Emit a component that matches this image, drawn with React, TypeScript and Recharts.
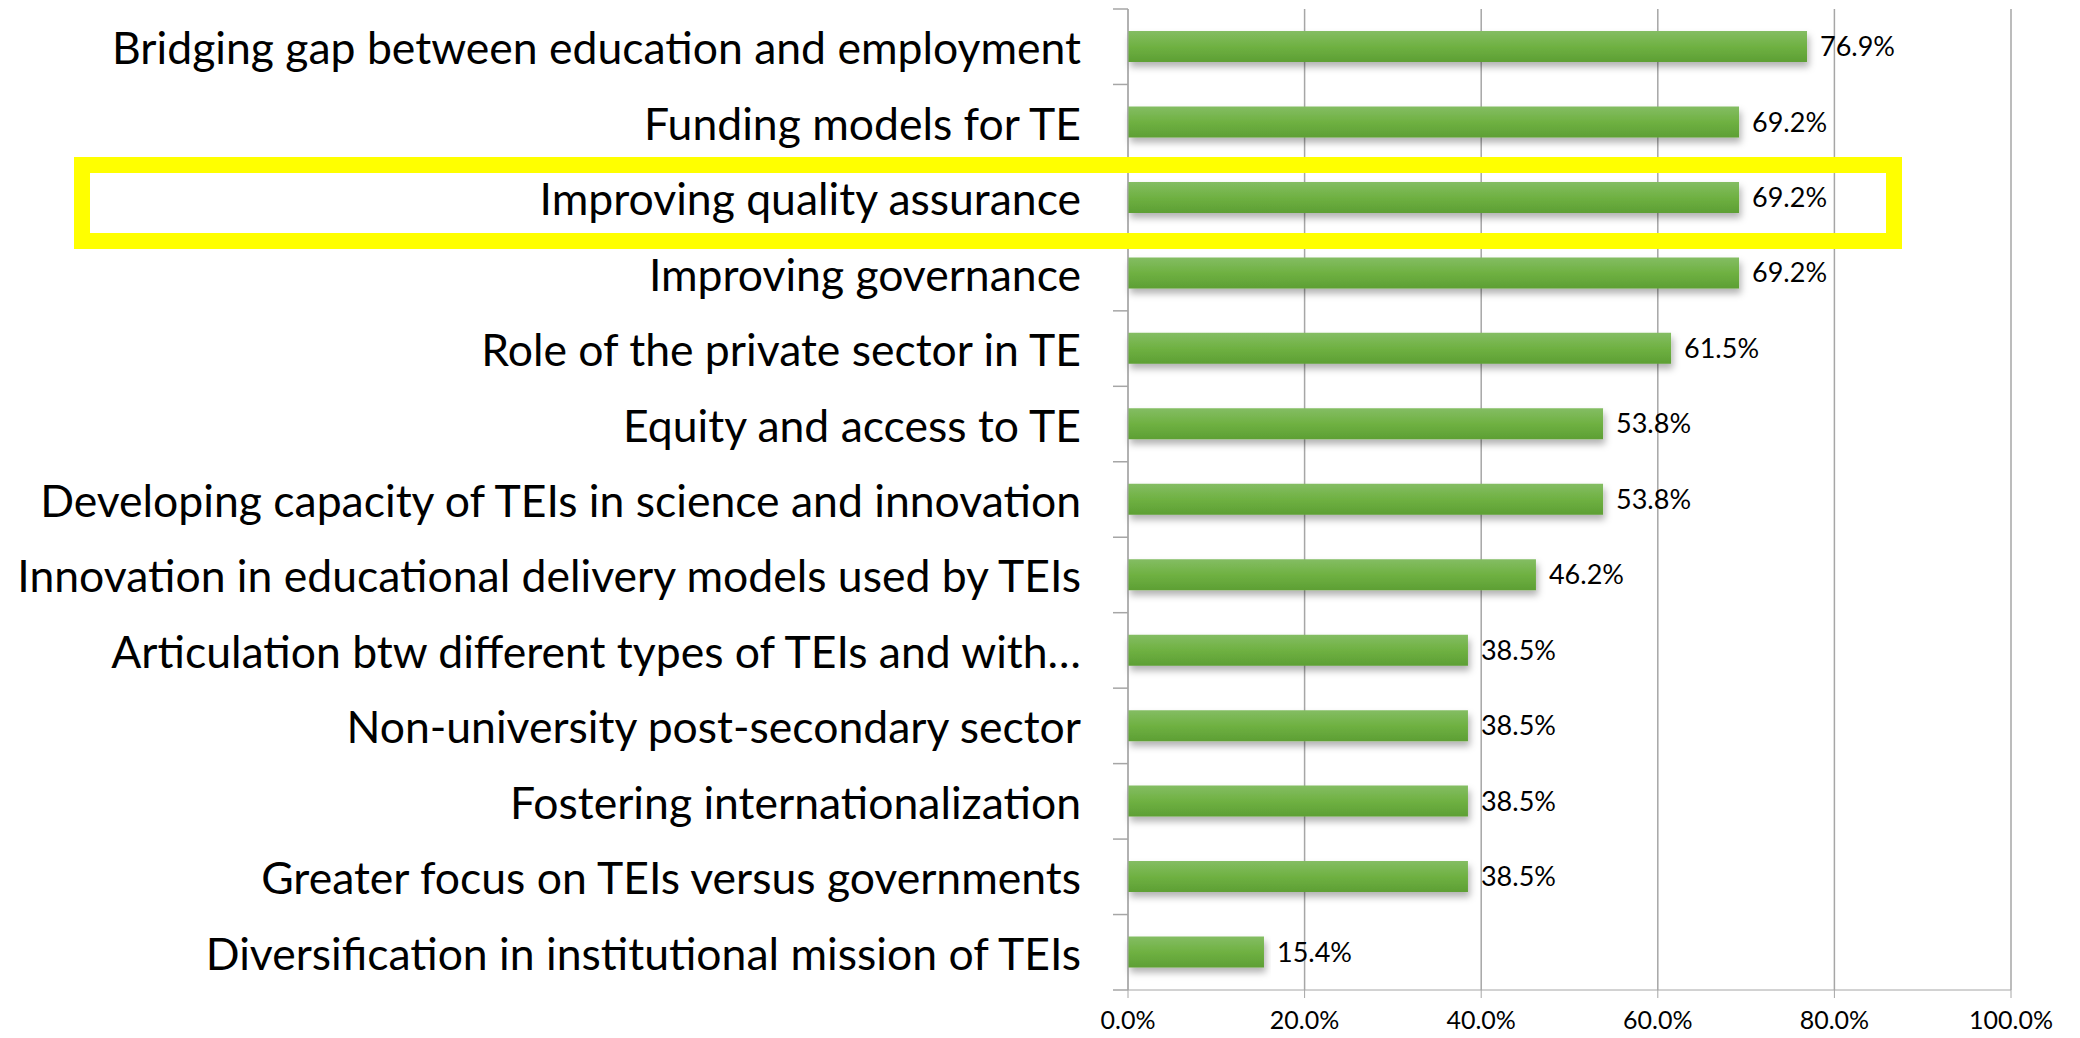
import React from 'react';
import { BarChart, Bar, XAxis, YAxis, CartesianGrid, LabelList } from 'recharts';

// survey topics, top to bottom
const categories = [
  'Bridging gap between education and employment',
  'Funding models for TE',
  'Improving quality assurance',
  'Improving governance',
  'Role of the private sector in TE',
  'Equity and access to TE',
  'Developing capacity of TEIs in science and innovation',
  'Innovation in educational delivery models used by TEIs',
  'Articulation btw different types of TEIs and with…',
  'Non-university post-secondary sector',
  'Fostering internationalization',
  'Greater focus on TEIs versus governments',
  'Diversification in institutional mission of TEIs',
];

const shares = [76.9, 69.2, 69.2, 69.2, 61.5, 53.8, 53.8, 46.2, 38.5, 38.5, 38.5, 38.5, 15.4];

const xTicks = [0, 20, 40, 60, 80, 100];

const W = 2080;
const H = 1038;
const MARGIN = { top: 9, right: 69, bottom: 0, left: 0 };
const AXIS_W = 1128;
const XAXIS_H = 48;
const PLOT_H = H - MARGIN.top - MARGIN.bottom - XAXIS_H;
const BAND = PLOT_H / categories.length;
const AXIS_COLOR = '#a6a6a6';
const FONT = 'Lato, "Open Sans", sans-serif';

const data = categories.map((name, i) => ({ name, value: shares[i] }));

function CategoryTick(props: any) {
  const { x, y, payload, index } = props;
  const i = index ?? payload?.index ?? 0;
  return (
    <g>
      <line x1={x - 15} x2={x} y1={y - BAND / 2} y2={y - BAND / 2} stroke={AXIS_COLOR} strokeWidth={1.5} />
      {i === categories.length - 1 && (
        <line x1={x - 15} x2={x} y1={y + BAND / 2} y2={y + BAND / 2} stroke={AXIS_COLOR} strokeWidth={1.5} />
      )}
      <text x={x - 47} y={y} textAnchor="end" dominantBaseline="central" fontSize={44.5} fontFamily={FONT} fill="#000">
        {payload.value}
      </text>
    </g>
  );
}

export default function App() {
  return (
    <div style={{ position: 'absolute', left: 0, top: 0, width: W, height: H, background: '#fff' }}>
      <BarChart width={W} height={H} data={data} layout="vertical" margin={MARGIN}>
        <defs>
          <linearGradient id="barFill" x1="0" y1="0" x2="0" y2="1">
            <stop offset="0%" stopColor="#84bd63" />
            <stop offset="50%" stopColor="#6fb142" />
            <stop offset="100%" stopColor="#5d9f34" />
          </linearGradient>
          <filter id="barShadow" x="-5%" y="-30%" width="110%" height="190%">
            <feDropShadow dx="2" dy="5" stdDeviation="3.5" floodColor="#000" floodOpacity="0.3" />
          </filter>
        </defs>
        <CartesianGrid horizontal={false} stroke={AXIS_COLOR} strokeWidth={1.5} />
        <XAxis
          type="number"
          domain={[0, 100]}
          ticks={xTicks}
          height={XAXIS_H}
          tickFormatter={(v) => `${v.toFixed(1)}%`}
          stroke={AXIS_COLOR}
          tickSize={8}
          tickMargin={13}
          tick={{ fill: '#000', fontSize: 25, fontFamily: FONT }}
          interval={0}
        />
        <YAxis
          type="category"
          dataKey="name"
          width={AXIS_W}
          tickSize={0}
          tickMargin={0}
          tickLine={false}
          stroke={AXIS_COLOR}
          tick={<CategoryTick />}
          interval={0}
        />
        <Bar dataKey="value" barSize={31} fill="url(#barFill)" filter="url(#barShadow)" isAnimationActive={false}>
          <LabelList
            dataKey="value"
            position="right"
            offset={13}
            formatter={(v: any) => `${Number(v).toFixed(1)}%`}
            style={{ fill: '#000', fontSize: 27, fontFamily: FONT }}
          />
        </Bar>
      </BarChart>
      {/* highlight box around the quality assurance row */}
      <div
        style={{
          position: 'absolute',
          left: 74,
          top: 157,
          width: 1828,
          height: 92,
          border: '16px solid #ffff00',
          boxSizing: 'border-box',
          pointerEvents: 'none',
        }}
      />
    </div>
  );
}
